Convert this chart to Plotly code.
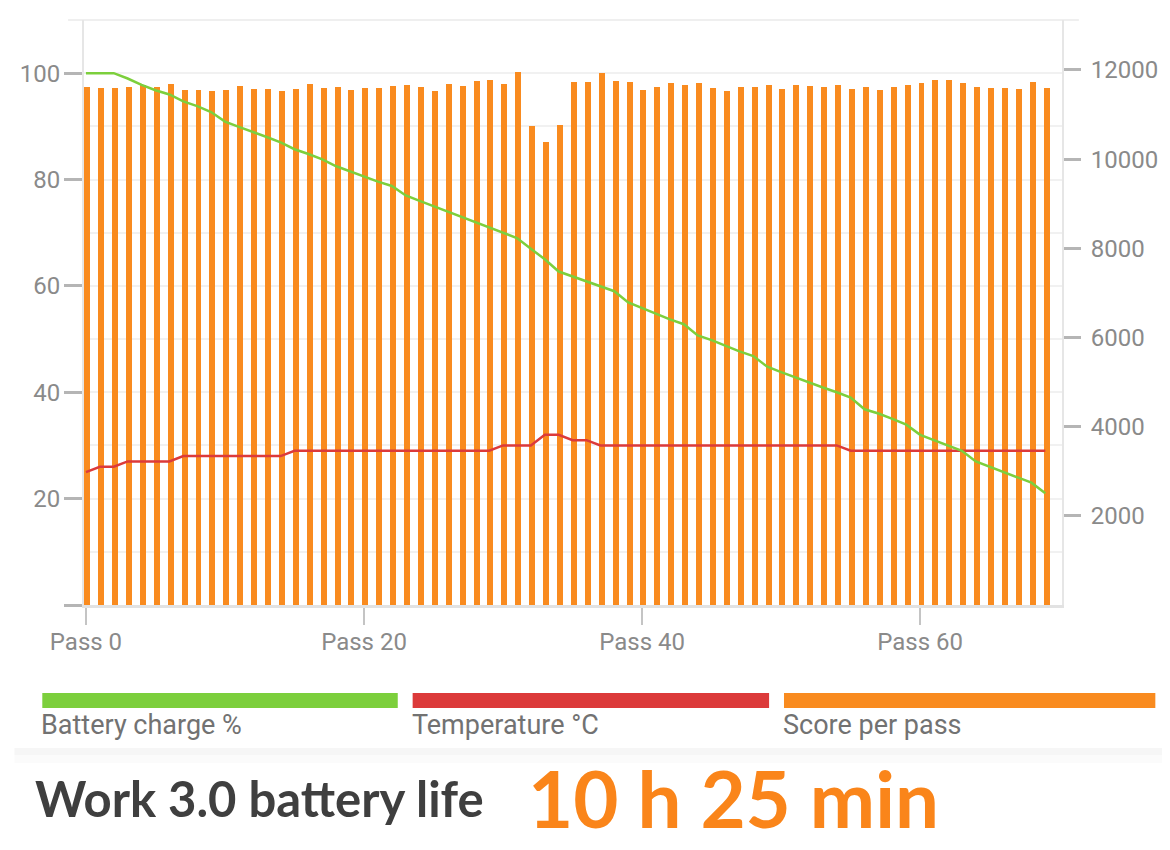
import plotly.graph_objects as go

passes = list(range(70))
tick_passes = [0, 20, 40, 60]
tick_labels = ["Pass 0", "Pass 20", "Pass 40", "Pass 60"]
score_ticks = [2000, 4000, 6000, 8000, 10000, 12000]
score_tick_labels = ["2000", "4000", "6000", "8000", "10000", "12000"]
pct_ticks = [0, 20, 40, 60, 80, 100]
pct_tick_labels = ["", "20", "40", "60", "80", "100"]

score = [11619, 11590, 11603, 11619, 11664, 11612, 11694, 11560, 11552, 11529,
         11545, 11648, 11582, 11582, 11537, 11574, 11679, 11597, 11626, 11552,
         11597, 11597, 11634, 11671, 11626, 11522, 11686, 11648, 11753, 11776,
         11694, 11962, 10745, 10379, 10767, 11731, 11724, 11925, 11761, 11724,
         11552, 11619, 11701, 11671, 11709, 11590, 11522, 11619, 11619, 11656,
         11574, 11664, 11648, 11612, 11656, 11574, 11626, 11545, 11612, 11671,
         11701, 11776, 11769, 11701, 11626, 11603, 11597, 11582, 11731, 11597]

battery = [100, 100, 100, 99, 97.8, 96.8, 96, 94.7, 93.8, 92.7,
           90.9, 89.9, 89, 88, 87, 85.7, 84.8, 83.8, 82.5, 81.5,
           80.5, 79.6, 78.8, 77, 76, 75, 74, 73, 72, 71,
           70, 69, 67, 65, 62.7, 61.8, 60.8, 59.9, 59.0, 56.9,
           55.8, 54.8, 53.7, 52.8, 50.7, 49.8, 48.7, 47.7, 46.8, 44.8,
           43.8, 42.8, 41.8, 40.9, 40.0, 39.0, 36.8, 36.0, 35.0, 33.9,
           32.0, 31.0, 30.0, 29.0, 27.0, 26.0, 25.0, 24.0, 23.0, 21.0]

temperature = [25, 26, 26, 27, 27, 27, 27, 28, 28, 28,
               28, 28, 28, 28, 28, 29, 29, 29, 29, 29,
               29, 29, 29, 29, 29, 29, 29, 29, 29, 29,
               30, 30, 30, 32, 32, 31, 31, 30, 30, 30,
               30, 30, 30, 30, 30, 30, 30, 30, 30, 30,
               30, 30, 30, 30, 30, 29, 29, 29, 29, 29,
               29, 29, 29, 29, 29, 29, 29, 29, 29, 29]

legend_names = ["Battery charge %", "Temperature °C", "Score per pass"]
title_text = "Work 3.0 battery life"
result_text = "10 h 25 min"

GREEN = "#7ccf3c"
RED = "#dc3a3a"
ORANGE = "#f98b1f"

# page has an 8px body margin; the figure is sized to fit inside it
OFF = 8
W, H = 1170 - OFF, 850 - OFF
L, T = 78 - OFF, 20 - OFF
B = H - (605 - OFF)
R = W - (1063 - OFF)
PW = W - L - R
PH = H - T - B


def px(page_x):
    return (page_x - OFF - L) / PW


def py(page_y):
    return (H - B - (page_y - OFF)) / PH


fig = go.Figure()
fig.add_trace(go.Bar(x=passes, y=score, yaxis="y", marker=dict(color=ORANGE, line=dict(width=0)),
                     width=0.43, offset=-0.12, name=legend_names[2], showlegend=False))
fig.add_trace(go.Scatter(x=passes, y=temperature, yaxis="y2", mode="lines",
                         line=dict(color=RED, width=2.5), name=legend_names[1], showlegend=False))
fig.add_trace(go.Scatter(x=passes, y=battery, yaxis="y2", mode="lines",
                         line=dict(color=GREEN, width=2.5), name=legend_names[0], showlegend=False))

tickfont = dict(family="Roboto", size=24, color="#8a8a8a")

fig.update_layout(
    width=W, height=H,
    margin=dict(l=L, r=R, t=T, b=B, pad=0),
    paper_bgcolor="white", plot_bgcolor="white",
    bargap=0,
    xaxis=dict(range=[-0.14, 70.2], tickvals=tick_passes, ticktext=tick_labels,
               showgrid=False, zeroline=False, showline=True, linecolor="#e2e2e2", linewidth=3,
               ticks="outside", ticklen=17, tickwidth=2, tickcolor="#c4c4c4",
               tickfont=tickfont, ticklabelstandoff=-4),
    yaxis=dict(side="right", range=[0, 13121], tickvals=score_ticks, ticktext=score_tick_labels,
               showgrid=False, zeroline=False, showline=True, linecolor="#e6e6e6", linewidth=2,
               ticks="outside", ticklen=17, tickwidth=3, tickcolor="#b5b5b5",
               tickfont=tickfont, ticklabelstandoff=5),
    yaxis2=dict(side="left", overlaying="y", range=[0, 110],
                tickvals=pct_ticks, ticktext=pct_tick_labels,
                showgrid=True, gridcolor="#f1f1f1", gridwidth=2, zeroline=False,
                showline=True, linecolor="#e6e6e6", linewidth=2,
                ticks="outside", ticklen=18, tickwidth=3, tickcolor="#b5b5b5",
                tickfont=tickfont, ticklabelstandoff=-1,
                minor=dict(dtick=10, tick0=0, showgrid=True, gridcolor="#f1f1f1", gridwidth=2, ticks="")),
)

shapes = [
    dict(type="line", xref="paper", yref="paper", x0=px(62), x1=px(1080), y0=1, y1=1,
         line=dict(color="#efefef", width=2), layer="below"),
    dict(type="rect", xref="paper", yref="paper", x0=px(OFF), x1=px(1170), y0=py(748), y1=py(755),
         fillcolor="#f6f6f6", line=dict(width=0), layer="below"),
    dict(type="rect", xref="paper", yref="paper", x0=px(OFF), x1=px(1170), y0=py(755), y1=py(763),
         fillcolor="#fbfbfb", line=dict(width=0), layer="below"),
]
legend_spans = [(36, 394, GREEN), (409, 768, RED), (783, 1157, ORANGE)]
annotations = []
for (x0, x1, col), name in zip(legend_spans, legend_names):
    shapes.append(dict(type="rect", xref="paper", yref="paper", x0=px(x0), x1=px(x1),
                       y0=py(708), y1=py(693), fillcolor=col, line=dict(width=0)))
    annotations.append(dict(xref="paper", yref="paper", x=px(x0 - 3), y=py(725), xanchor="left",
                            yanchor="middle", text=name, showarrow=False,
                            font=dict(family="Roboto", size=27, color="#727272")))

annotations.append(dict(xref="paper", yref="paper", x=px(27), y=py(798), xanchor="left", yanchor="middle",
                        text="<b>" + title_text + "</b>", showarrow=False,
                        font=dict(family="Lato", size=49, color="#3f3f3f")))
annotations.append(dict(xref="paper", yref="paper", x=px(523), y=py(798), xanchor="left", yanchor="middle",
                        text="<b>" + result_text + "</b>", showarrow=False,
                        font=dict(family="Lato", size=78, color="#fa851a")))

fig.update_layout(shapes=shapes, annotations=annotations)

fig.write_html("out.html")
